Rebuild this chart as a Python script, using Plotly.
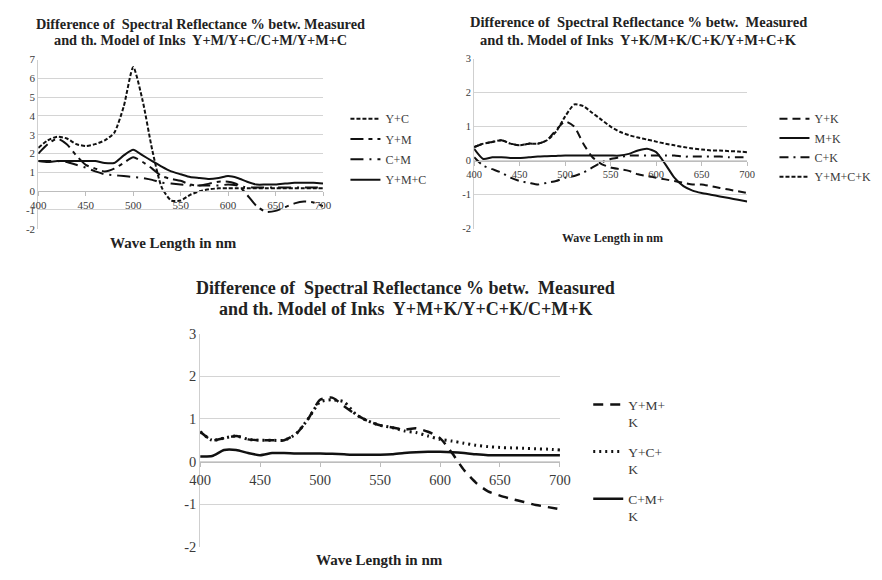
import plotly.graph_objects as go

W, H = 882, 580

wavelength = list(range(400, 701, 10))
x_ticks = [400, 450, 500, 550, 600, 650, 700]
y_ticks_1 = [-2, -1, 0, 1, 2, 3, 4, 5, 6, 7]
y_labels_1 = ["-2", "-1", "0", "1", "2", "3", "4", "5", "6", "7"]
y_ticks_23 = [-2, -1, 0, 1, 2, 3]
y_labels_23 = ["-2", "-1", "0", "1", "2", "3"]

# Chart 1: Y+M / Y+C / C+M / Y+M+C
c1_yc = [2.3, 2.7, 2.9, 2.8, 2.5, 2.4, 2.5, 2.7, 3.1, 4.5, 6.6, 4.8, 2.2, 0.2, -0.5,
         -0.5, -0.2, 0.0, 0.1, 0.15, 0.15, 0.15, 0.15, 0.15, 0.15, 0.15, 0.15, 0.15, 0.15, 0.15, 0.15]
c1_ym = [2.0, 2.5, 2.8, 2.5, 1.9, 1.4, 1.2, 1.05, 1.2, 1.5, 1.8, 1.55, 1.2, 0.8, 0.65,
         0.55, 0.35, 0.3, 0.4, 0.5, 0.5, 0.35, -0.2, -0.8, -1.1, -1.05, -0.85, -0.65, -0.55, -0.6, -0.8]
c1_cm = [1.6, 1.6, 1.6, 1.55, 1.4, 1.25, 1.05, 0.9, 0.85, 0.8, 0.75, 0.7, 0.6, 0.45, 0.4,
         0.35, 0.3, 0.3, 0.3, 0.3, 0.35, 0.3, 0.2, 0.2, 0.2, 0.2, 0.2, 0.2, 0.2, 0.2, 0.2]
c1_ymc = [1.6, 1.55, 1.6, 1.6, 1.6, 1.6, 1.6, 1.5, 1.5, 1.9, 2.2, 1.9, 1.6, 1.3, 1.05,
          0.9, 0.75, 0.7, 0.65, 0.7, 0.8, 0.7, 0.5, 0.35, 0.35, 0.35, 0.4, 0.45, 0.45, 0.45, 0.4]

# Chart 2: Y+K / M+K / C+K / Y+M+C+K
c2_yk = [0.4, 0.5, 0.55, 0.6, 0.5, 0.45, 0.5, 0.5, 0.6, 0.9, 1.15, 1.0, 0.5, 0.1, -0.1,
         -0.2, -0.25, -0.3, -0.4, -0.45, -0.5, -0.55, -0.6, -0.65, -0.7, -0.7, -0.75, -0.8, -0.85, -0.9, -0.95]
c2_mk = [0.35, 0.05, 0.1, 0.1, 0.08, 0.08, 0.1, 0.12, 0.13, 0.14, 0.15, 0.15, 0.15, 0.15, 0.15,
         0.15, 0.15, 0.2, 0.3, 0.35, 0.25, -0.1, -0.5, -0.75, -0.88, -0.95, -1.0, -1.05, -1.1, -1.15, -1.2]
c2_ck = [0.1, -0.15, -0.25, -0.35, -0.5, -0.6, -0.65, -0.7, -0.65, -0.6, -0.5, -0.45, -0.35, -0.2, -0.05,
         0.05, 0.1, 0.15, 0.15, 0.15, 0.15, 0.15, 0.15, 0.12, 0.12, 0.12, 0.12, 0.12, 0.1, 0.1, 0.1]
c2_ymck = [0.4, 0.5, 0.55, 0.6, 0.5, 0.45, 0.5, 0.5, 0.6, 0.85, 1.3, 1.65, 1.6, 1.4, 1.2,
           1.0, 0.85, 0.75, 0.68, 0.62, 0.56, 0.5, 0.45, 0.4, 0.36, 0.33, 0.3, 0.3, 0.28, 0.27, 0.25]

# Chart 3: Y+M+K / Y+C+K / C+M+K
c3_ymk = [0.7, 0.5, 0.55, 0.6, 0.52, 0.5, 0.5, 0.5, 0.65, 1.0, 1.45, 1.5, 1.3, 1.1, 0.95,
          0.85, 0.8, 0.75, 0.78, 0.7, 0.55, 0.2, -0.2, -0.5, -0.7, -0.8, -0.88, -0.95, -1.02, -1.07, -1.12]
c3_yck = [0.7, 0.5, 0.55, 0.6, 0.52, 0.5, 0.5, 0.5, 0.65, 1.0, 1.4, 1.45, 1.4, 1.1, 0.95,
          0.85, 0.8, 0.72, 0.68, 0.6, 0.52, 0.48, 0.43, 0.38, 0.35, 0.33, 0.32, 0.31, 0.3, 0.29, 0.27]
c3_cmk = [0.12, 0.13, 0.27, 0.27, 0.2, 0.15, 0.2, 0.2, 0.19, 0.19, 0.19, 0.18, 0.17, 0.16, 0.16,
          0.16, 0.17, 0.2, 0.22, 0.23, 0.23, 0.22, 0.2, 0.17, 0.15, 0.15, 0.15, 0.15, 0.15, 0.15, 0.15]

title_lines = [
    ["Difference of  Spectral Reflectance % betw. Measured",
     "and th. Model of Inks  Y+M/Y+C/C+M/Y+M+C"],
    ["Difference of  Spectral Reflectance % betw.  Measured",
     "and th. Model of Inks  Y+K/M+K/C+K/Y+M+C+K"],
    ["Difference of  Spectral Reflectance % betw.  Measured",
     "and th. Model of Inks  Y+M+K/Y+C+K/C+M+K"],
]
axis_title = "Wave Length in nm"

SERIF = "Liberation Serif"
INK = "#111111"
GRID = "#d4d4d4"
TXT = "#3a3a3a"

def px_x(p):
    return p / W

def px_y(p):
    return 1 - p / H

fig = go.Figure()

def add(xa, ya, leg, name, y, dash, width=2.0):
    fig.add_trace(go.Scatter(
        x=wavelength, y=y, name=name, mode="lines",
        line=dict(color=INK, width=width, dash=dash, shape="spline", smoothing=0.6),
        xaxis=xa, yaxis=ya, legend=leg, legendgroup=leg + name,
    ))

add("x", "y", "legend", "Y+C", c1_yc, "4px,2px")
add("x", "y", "legend", "Y+M", c1_ym, "13px,5px,4px,5px")
add("x", "y", "legend", "C+M", c1_cm, "13px,6px,2px,6px")
add("x", "y", "legend", "Y+M+C", c1_ymc, "solid")

add("x2", "y2", "legend2", "Y+K", c2_yk, "8px,5px")
add("x2", "y2", "legend2", "M+K", c2_mk, "solid")
add("x2", "y2", "legend2", "C+K", c2_ck, "9px,5px,2px,5px")
add("x2", "y2", "legend2", "Y+M+C+K", c2_ymck, "4px,2px")

add("x3", "y3", "legend3", "Y+M+<br>K", c3_ymk, "10px,7px", 2.5)
add("x3", "y3", "legend3", "Y+C+<br>K", c3_yck, "2px,4px", 3)
add("x3", "y3", "legend3", "C+M+<br>K", c3_cmk, "solid", 2.5)

# geometry (pixels)
charts = [
    dict(x0=28, x1=320, y0=53, y1=227, yr=[-2, 7], zero=188, tick_font=11,
         tv=y_ticks_1, tt=y_labels_1),
    dict(x0=475, x1=755, y0=52, y1=227, yr=[-2, 3], zero=157, tick_font=10.5,
         tv=y_ticks_23, tt=y_labels_23),
    dict(x0=194, x1=563, y0=335, y1=554, yr=[-2, 3], zero=467, tick_font=14.5,
         tv=y_ticks_23, tt=y_labels_23),
]
suffix = ["", "2", "3"]
layout = {}
for c, s in zip(charts, suffix):
    layout["xaxis" + s] = dict(
        domain=[px_x(c["x0"]), px_x(c["x1"])], range=[400, 700],
        tickvals=x_ticks, anchor="free", position=px_y(c["zero"]),
        showgrid=False, zeroline=False, showline=True, linecolor="#bdbdbd", linewidth=1,
        ticks="outside", ticklen=4, tickcolor="#bdbdbd",
        tickfont=dict(family=SERIF, size=c["tick_font"], color=TXT),
        fixedrange=True,
    )
    layout["yaxis" + s] = dict(
        domain=[px_y(c["y1"]), px_y(c["y0"])], range=c["yr"],
        tickvals=c["tv"], ticktext=c["tt"],
        anchor="x" + s, showgrid=True, gridcolor=GRID, gridwidth=1,
        zeroline=False, showline=True, linecolor="#cfcfcf", linewidth=1,
        ticks="", tickfont=dict(family=SERIF, size=c["tick_font"], color=TXT),
        fixedrange=True,
    )

fig.update_layout(
    width=W, height=H, margin=dict(l=0, r=0, t=0, b=0),
    paper_bgcolor="white", plot_bgcolor="white",
    showlegend=True,
    legend=dict(x=px_x(343), y=px_y(99), xanchor="left", yanchor="top",
                font=dict(family=SERIF, size=12, color=TXT), tracegroupgap=1.3,
                bgcolor="rgba(0,0,0,0)"),
    legend2=dict(x=px_x(783), y=px_y(99), xanchor="left", yanchor="top",
                 font=dict(family=SERIF, size=12, color=TXT), tracegroupgap=0.3,
                 bgcolor="rgba(0,0,0,0)"),
    legend3=dict(x=px_x(592), y=px_y(392), xanchor="left", yanchor="top", valign="top",
                 font=dict(family=SERIF, size=13.5, color=TXT), tracegroupgap=9,
                 bgcolor="rgba(0,0,0,0)"),
    **layout,
)

ann = [
    dict(text=title_lines[0][0], x=194, y=16, size=14.3),
    dict(text=title_lines[0][1], x=194, y=33, size=14.3),
    dict(text=title_lines[1][0], x=644, y=14, size=14.5),
    dict(text=title_lines[1][1], x=644, y=33, size=14.5),
    dict(text=title_lines[2][0], x=405, y=288, size=18),
    dict(text=title_lines[2][1], x=405, y=310, size=18),
    dict(text=axis_title, x=167, y=242, size=15),
    dict(text=axis_title, x=617, y=237, size=12),
    dict(text=axis_title, x=378, y=568, size=15),
]
for a in ann:
    fig.add_annotation(text="<b>" + a["text"] + "</b>", x=px_x(a["x"]), y=px_y(a["y"]),
                       xref="paper", yref="paper",
                       xanchor="center", yanchor="middle", showarrow=False,
                       font=dict(family=SERIF, size=a["size"], color="#222222"))

fig.write_html("out.html")
